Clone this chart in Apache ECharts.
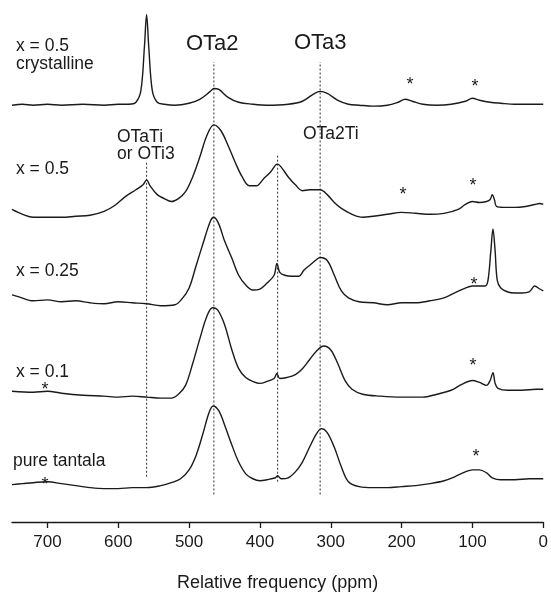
<!DOCTYPE html>
<html>
<head>
<meta charset="utf-8">
<script src="https://cdn.jsdelivr.net/npm/echarts@6/dist/echarts.min.js"></script>
<style>
  html, body { margin: 0; padding: 0; background: #fff; }
  #main { width: 551px; height: 597px; }
</style>
</head>
<body>
<div id="main"></div>
<script>
// ppm positions and intensities (relative to each trace's own baseline)
var crystPpm = [750,735,720,700,680,650,620,600,585,575,568,563,560,557,552,545,535,520,500,485,470,465,458,445,430,410,390,360,340,325,315,305,290,275,260,240,220,205,195,185,170,150,130,110,100,90,75,60,40,20,0];
var crystInt = [0,1,0,1,0,1,0,1,1,3,15,60,92,60,15,3,1,0,2,6,14,17,16,8,3,1,0,1,4,11,14,12,5,1,0,-1,0,3,6,4,1,0,1,4,7,5,3,2,1,1,1];

var x05Ppm = [750,735,720,700,680,660,640,620,605,590,575,565,560,555,545,535,525,515,505,495,485,475,465,455,445,435,425,415,405,395,385,378,375,370,360,350,340,330,315,305,295,285,270,255,240,220,200,180,160,140,120,110,100,90,80,75,72,69,66,55,40,25,12,5,0];
var x05Int = [2,-3,-6,-6,-6,-5,-4,0,6,15,22,27,32,26,17,13,10,13,20,35,55,77,88,82,67,50,35,26,26,33,40,47,48,45,35,27,21,22,22,17,9,3,-3,-6,-5,-3,-1,-2,-3,-2,2,7,10,9,10,12,17,12,5,4,4,5,7,8,7];

var x025Ppm = [750,740,720,700,680,660,640,620,600,580,560,540,520,510,500,490,480,470,465,458,450,440,430,420,410,400,390,380,376,372,365,355,345,338,330,320,315,305,295,285,275,260,240,220,200,180,160,140,125,110,100,90,82,78,74,71,68,65,60,50,40,30,20,12,5,0];
var x025Int = [5,3,-1,0,-2,-1,-3,-4,-2,-3,-4,-6,-5,1,12,35,58,80,84,77,60,43,25,15,10,11,17,25,37,28,25,24,24,30,35,41,43,40,25,9,2,-2,-3,-5,-3,-3,-1,2,7,12,14,14,14,20,50,72,50,20,12,8,7,7,8,14,11,9];

var x01Ppm = [750,720,700,680,650,620,600,580,560,540,525,515,505,495,485,475,467,460,450,440,430,420,410,400,390,380,376,372,362,350,340,330,320,310,300,290,280,270,255,230,200,170,150,130,115,100,90,80,75,71,68,64,50,30,10,0];
var x01Int = [2,1,2,0,-2,-3,-4,-3,-4,-5,-5,-1,8,30,55,78,87,85,70,45,25,16,12,10,12,15,20,15,16,19,25,34,43,48,44,30,13,4,-1,-3,-4,-4,-1,3,9,13,11,8,13,21,10,5,3,3,4,4];

var purePpm = [750,735,720,700,680,660,640,620,600,580,560,540,525,512,500,490,480,472,466,458,450,440,430,420,410,400,390,378,375,370,360,350,340,330,320,313,305,295,285,275,260,240,220,200,180,160,140,125,110,100,90,80,72,60,40,20,0];
var pureInt = [-1,0,1,2,0,-2,-4,-5,-5,-4,-4,-2,1,5,14,29,52,72,79,74,60,40,22,10,5,3,4,6,8,5,6,12,22,37,51,56,52,37,17,2,-3,-4,-4,-3,-2,0,3,7,12,14,14,11,6,4,4,5,5];

var traceNames = ['x = 0.5 crystalline', 'x = 0.5', 'x = 0.25', 'x = 0.1', 'pure tantala'];
var tracePpm = [crystPpm, x05Ppm, x025Ppm, x01Ppm, purePpm];
var traceInt = [crystInt, x05Int, x025Int, x01Int, pureInt];
var traceOffset = [424, 316, 226, 131, 39];

// dotted guide lines: ppm, bottom, top (same vertical units)
var guidePpm = [560, 465, 375, 315];
var guideLow = [46, 28, 41, 28];
var guideHigh = [366, 468, 373, 468];

var xTicks = [0, 100, 200, 300, 400, 500, 600, 700];

var font = 'Liberation Sans, Arial, sans-serif';
var ink = '#1a1a1a';

var chart = echarts.init(document.getElementById('main'));

var series = [];
for (var i = 0; i < traceNames.length; i++) {
  var pts = [];
  for (var j = 0; j < tracePpm[i].length; j++) {
    pts.push([tracePpm[i][j], traceInt[i][j] + traceOffset[i]]);
  }
  series.push({
    name: traceNames[i],
    type: 'line',
    data: pts,
    showSymbol: false,
    smooth: 0.35,
    lineStyle: { color: ink, width: 1.4 },
    silent: true,
    z: 3
  });
}
for (var k = 0; k < guidePpm.length; k++) {
  series.push({
    type: 'line',
    data: [[guidePpm[k], guideLow[k]], [guidePpm[k], guideHigh[k]]],
    showSymbol: false,
    lineStyle: { color: '#333', width: 1, type: [2, 2] },
    silent: true,
    z: 2
  });
}

function txt(x, y, s, size) {
  return {
    type: 'text', x: x, y: y,
    style: { text: s, font: size + 'px ' + font, fill: ink, verticalAlign: 'middle' }
  };
}
function star(x, y) {
  return {
    type: 'text', x: x, y: y,
    style: { text: '*', font: '18px ' + font, fill: ink, align: 'center', verticalAlign: 'middle' }
  };
}

var option = {
  animation: false,
  backgroundColor: '#fff',
  grid: { left: 12, right: 7, top: 0, bottom: 66 },
  xAxis: {
    type: 'value',
    inverse: true,
    min: 0,
    max: 750,
    interval: 100,
    name: 'Relative frequency (ppm)',
    nameLocation: 'middle',
    nameGap: 52,
    nameTextStyle: { fontFamily: font, fontSize: 18, color: ink },
    axisLine: { lineStyle: { color: ink, width: 1.3 } },
    axisTick: { length: 6, lineStyle: { color: ink, width: 1.3 }, customValues: xTicks },
    axisLabel: { fontFamily: font, fontSize: 17, color: ink, margin: 12, customValues: xTicks },
    splitLine: { show: false }
  },
  yAxis: {
    type: 'value', min: 0, max: 531, show: false
  },
  series: series,
  graphic: [
    txt(16, 46, 'x = 0.5', 17.5),
    txt(16, 64, 'crystalline', 17.5),
    txt(186, 44, 'OTa2', 22),
    txt(294, 43, 'OTa3', 22),
    txt(117, 137, 'OTaTi', 17.5),
    txt(117, 154, 'or OTi3', 17.5),
    txt(303, 134, 'OTa2Ti', 17.5),
    txt(16, 169, 'x = 0.5', 17.5),
    txt(16, 271, 'x = 0.25', 17.5),
    txt(16, 372, 'x = 0.1', 17.5),
    txt(13, 461, 'pure tantala', 17.5),
    star(410, 85), star(475, 87),
    star(403, 195), star(473, 186),
    star(474, 285),
    star(45, 390), star(473, 366),
    star(45, 485), star(476, 457)
  ]
};

chart.setOption(option);
</script>
</body>
</html>
